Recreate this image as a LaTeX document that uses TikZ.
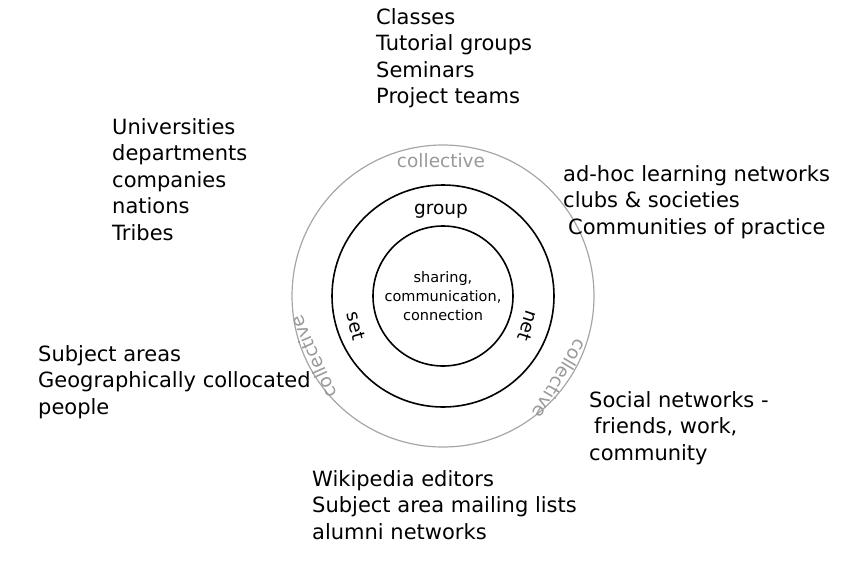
\documentclass[tikz,border=0pt]{standalone}
\usepackage{fontspec}
\setmainfont{DejaVu Sans}
\tikzset{
    block/.style={anchor=north west,align=left,inner sep=0pt,font=\fontsize{21}{26.5}\selectfont},
    ring/.style={draw=black,line width=1.6pt},
    gray ring/.style={draw=gray!70,line width=1.2pt},
    ringlabel/.style={inner sep=0pt,font=\fontsize{18.5}{20}\selectfont}
    }
\begin{document}
\begin{tikzpicture}[line cap=round,line join=round,x=1pt,y=-1pt]
\useasboundingbox (0,0) rectangle (854,563);
\coordinate (c) at (443,296);
\draw[gray ring] (c) circle (151pt);
\draw[ring] (c) circle (111pt);
\draw[ring] (c) circle (70pt);
\node[inner sep=0pt,align=center,font=\fontsize{14.5}{19}\selectfont] (core) at (c) {sharing,\\communication,\\connection};
\node[ringlabel] (group) at (441,211) {group};
\node[ringlabel,text=gray!80] (coltop) at (441,161) {collective};
\node[ringlabel,rotate=-75] (set) at (356,326) {set};
\node[ringlabel,rotate=-108] (net) at (528,326) {net};
\node[ringlabel,text=gray!80,rotate=114] (colleft) at (313,357) {collective};
\node[ringlabel,text=gray!80,rotate=-121] (colright) at (560,379) {collective};
% example groups around the rings
\node[block] (top) at (376,8) {Classes\\Tutorial groups\\Seminars\\Project teams};
\node[block] (upleft) at (112,118) {Universities\\departments\\companies\\nations\\Tribes};
\node[block] (upright) at (563,165) {ad-hoc learning networks\\clubs \& societies\\\hspace{5pt}Communities of practice};
\node[block] (left) at (38,345) {Subject areas\\Geographically collocated\\people};
\node[block] (lowright) at (589,391) {Social networks -\\\hspace{5pt}friends, work,\\community};
\node[block] (bottom) at (312,470) {Wikipedia editors\\Subject area mailing lists\\alumni networks};
\end{tikzpicture}
\end{document}
